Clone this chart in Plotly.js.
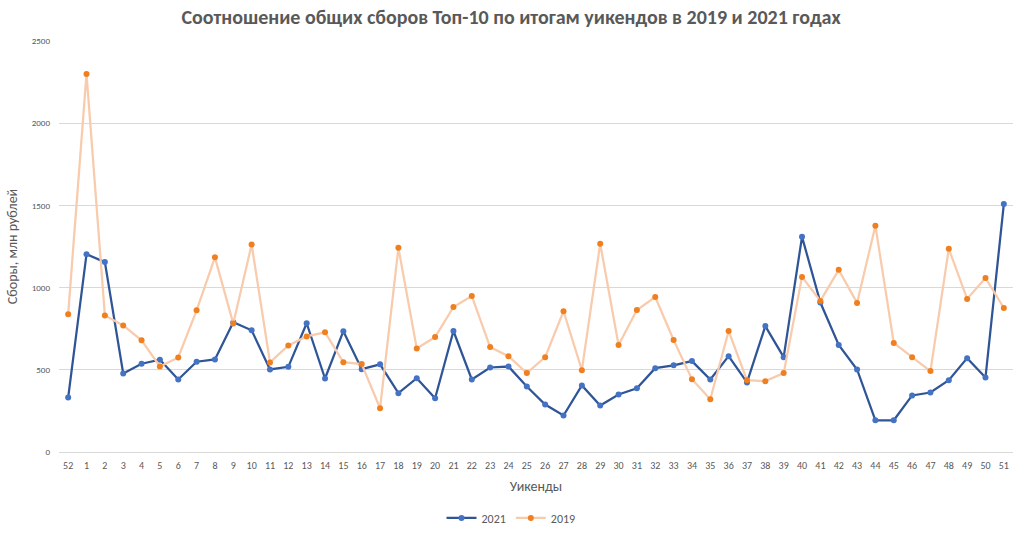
<!DOCTYPE html>
<html>
<head>
<meta charset="utf-8">
<script src="https://cdn.plot.ly/plotly-3.0.1.min.js"></script>
<style>html,body{margin:0;padding:0;background:#fff;}#chart{width:1022px;height:534px;}</style>
</head>
<body>
<div id="chart"></div>
<script>
const weeks = ["52","1","2","3","4","5","6","7","8","9","10","11","12","13","14","15","16","17","18","19","20","21","22","23","24","25","26","27","28","29","30","31","32","33","34","35","36","37","38","39","40","41","42","43","44","45","46","47","48","49","50","51"];
const values2021 = [331,1203,1155,478,537,561,441,549,563,789,740,502,518,783,447,735,504,533,358,449,327,736,441,514,520,398,289,222,405,283,350,388,510,527,553,441,583,423,766,577,1309,909,651,502,193,193,344,362,437,571,453,1508];
const values2019 = [838,2300,831,770,679,520,575,862,1184,781,1262,545,648,703,728,546,535,266,1242,630,699,882,949,638,583,480,577,856,498,1267,651,864,943,681,443,321,736,437,431,480,1065,919,1108,907,1376,663,577,492,1236,931,1059,876];

const font = "Calibri, Carlito, 'Open Sans', 'Liberation Sans', Arial, sans-serif";
const traces = [
  {x: weeks, y: values2021, name: "2021", type: "scatter", mode: "lines+markers",
   line: {color: "#2F5597", width: 2.25}, marker: {color: "#4472C4", size: 6}},
  {x: weeks, y: values2019, name: "2019", type: "scatter", mode: "lines+markers",
   line: {color: "#F8CBAD", width: 2.25}, marker: {color: "#F07F1F", size: 6}}
];
const layout = {
  width: 1022, height: 534,
  margin: {l: 59, r: 9, t: 41, b: 82},
  paper_bgcolor: "#ffffff", plot_bgcolor: "#ffffff",
  title: {text: "<b>Соотношение общих сборов Топ-10 по итогам уикендов в 2019 и 2021 годах</b>",
          font: {family: font, size: 20, color: "#595959"}, x: 0.5, xanchor: "center", y: 0.968, yanchor: "middle"},
  xaxis: {type: "category", range: [-0.5, 51.5], autorange: false, automargin: false,
          showgrid: false, zeroline: false, showline: false, ticks: "", ticklabelstandoff: 6,
          tickfont: {family: font, size: 10, color: "#595959"},
          title: {text: "Уикенды", font: {family: font, size: 14, color: "#595959"}, standoff: 10}},
  yaxis: {range: [0, 2500], autorange: false, automargin: false, dtick: 500, showgrid: true, gridcolor: "#d9d9d9", gridwidth: 1,
          zeroline: true, zerolinecolor: "#d9d9d9", zerolinewidth: 1, showline: false, ticks: "", ticklabelstandoff: 8,
          tickfont: {family: font, size: 9, color: "#595959"},
          title: {text: "Сборы, млн рублей", font: {family: font, size: 14, color: "#595959"}, standoff: 10}},
  legend: {orientation: "h", xref: "container", x: 0.5, xanchor: "center", yref: "container", y: 0.03, yanchor: "middle",
           font: {family: font, size: 12, color: "#595959"}},
  showlegend: true
};
Plotly.newPlot("chart", traces, layout, {displayModeBar: false, staticPlot: true});
</script>
</body>
</html>
